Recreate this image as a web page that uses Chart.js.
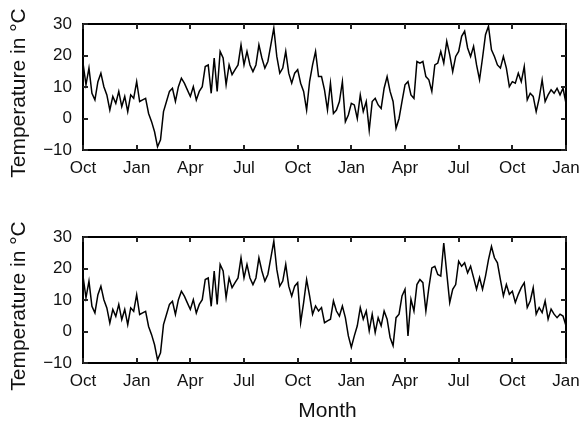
<!DOCTYPE html>
<html>
<head>
<meta charset="utf-8">
<script src="https://cdn.jsdelivr.net/npm/chart.js@4.4.1/dist/chart.umd.min.js"></script>
<style>
  html, body { margin: 0; padding: 0; background: #fff; }
  #wrap { position: relative; width: 581px; height: 424px; }
  canvas { position: absolute; left: 0; }
  #topPanel { top: 0; }
  #bottomPanel { top: 212px; }
</style>
</head>
<body>
<div id="wrap">
  <canvas id="topPanel" width="581" height="212" style="width:581px;height:212px"></canvas>
  <canvas id="bottomPanel" width="581" height="212" style="width:581px;height:212px"></canvas>
</div>
<script>
// Month labels along the time axis, one every three months
const tickLabels = ['Oct', 'Jan', 'Apr', 'Jul', 'Oct', 'Jan', 'Apr', 'Jul', 'Oct', 'Jan'];
const yTickValues = [-10, 0, 10, 20, 30];
const samplesPerMonth = 6;   // one value every ~5 days

// Upper panel: daily mean temperature (°C)
const topOctJul = [
  17.6, 10.7, 16.0, 8.0, 5.9, 11.7, 14.4, 10.1, 7.5, 2.7,
  7.0, 4.8, 8.6, 3.8, 7.0, 2.2, 7.5, 6.4, 11.7, 5.4,
  5.9, 6.4, 1.6, -1.0, -4.2, -9.0, -6.8, 2.2, 5.4, 8.6,
  9.6, 5.4, 10.1, 12.8, 11.2, 9.1, 7.0, 10.1, 5.9, 8.6,
  10.1, 16.5, 17.0, 8.0, 19.2, 8.6, 21.3, 19.2, 10.7, 17.0,
  13.9, 15.5, 17.0, 23.4
];
const topJulApr = [
  17.0, 21.3, 17.0, 14.9, 17.0, 23.4, 19.2, 16.0, 18.1, 23.4,
  28.7, 19.7, 14.4, 16.0, 21.3, 14.4, 11.2, 14.4, 15.5, 11.2,
  8.6, 2.7, 11.7, 17.0, 21.3, 13.3, 13.3, 9.1, 2.7, 11.2,
  1.6, 2.7, 5.4, 11.7, -1.0, 1.1, 4.8, 4.3, 0.0, 7.5,
  2.2, 5.4, -3.7, 5.4, 6.4, 4.3, 3.2, 9.6, 13.3, 8.6,
  5.4, -3.1, 0.0, 5.4
];
const topAprJan = [
  10.7, 11.7, 7.5, 6.4, 18.1, 17.6, 18.1, 13.3, 12.3, 8.6,
  17.0, 17.6, 21.3, 17.6, 24.5, 20.2, 14.9, 19.7, 21.3, 26.1,
  27.7, 22.4, 19.7, 22.9, 17.0, 12.3, 19.2, 26.6, 29.3, 21.8,
  19.7, 17.0, 16.0, 19.7, 16.0, 10.1, 11.7, 11.2, 14.4, 11.7,
  16.5, 5.9, 8.0, 7.0, 2.2, 6.4, 12.3, 5.4, 7.5, 9.1,
  8.0, 9.6, 7.5, 9.6, 4.8
];

// Lower panel: daily mean temperature (°C)
const bottomOctJul = [
  17.6, 10.7, 16.0, 8.0, 5.9, 11.7, 14.4, 10.1, 7.5, 2.7,
  7.0, 4.8, 8.6, 3.8, 7.0, 2.2, 7.5, 6.4, 11.7, 5.4,
  5.9, 6.4, 1.6, -1.0, -4.2, -9.0, -6.8, 2.2, 5.4, 8.6,
  9.6, 5.4, 10.1, 12.8, 11.2, 9.1, 7.0, 10.1, 5.9, 8.6,
  10.1, 16.5, 17.0, 8.0, 19.2, 8.6, 21.3, 19.2, 10.7, 17.0,
  13.9, 15.5, 17.0, 23.4
];
const bottomJulApr = [
  17.0, 21.3, 17.0, 14.9, 17.0, 23.4, 19.2, 16.0, 18.1, 23.4,
  28.7, 19.7, 14.4, 16.0, 21.3, 14.4, 11.2, 14.4, 15.5, 2.8,
  9.2, 16.5, 11.3, 5.5, 8.1, 6.5, 7.6, 2.8, 3.4, 3.9,
  9.7, 6.5, 4.9, 8.1, 4.4, -1.4, -5.0, -1.4, 1.8, 7.6,
  3.9, 6.5, 0.2, 5.5, -0.3, 4.4, 1.8, 6.5, 3.9, -1.9,
  -4.5, 4.4, 5.5, 11.3
];
const bottomAprJan = [
  13.4, -1.4, 10.2, 6.5, 14.9, 16.5, 15.5, 6.5, 13.9, 20.2,
  20.7, 18.1, 17.6, 28.1, 18.6, 9.2, 13.4, 14.9, 22.3, 20.7,
  21.8, 18.6, 20.7, 17.1, 13.4, 17.1, 13.4, 17.6, 22.8, 27.0,
  23.4, 21.8, 16.5, 11.3, 14.9, 11.8, 12.8, 9.2, 11.8, 13.9,
  15.5, 7.6, 9.7, 13.9, 5.5, 7.6, 6.0, 9.7, 3.9, 7.1,
  5.5, 4.4, 5.5, 4.9, 1.8
];

const FONT = "'Liberation Sans', Arial, Helvetica, sans-serif";
const INK = '#111';

// Box around the plotting area with inward tick marks on all four sides
const axisFrame = {
  id: 'axisFrame',
  afterDraw(chart) {
    const ctx = chart.ctx;
    const area = chart.chartArea;
    const xs = chart.scales.x, ys = chart.scales.y;
    const L = Math.round(area.left), R = Math.round(area.right);
    const T = Math.round(area.top), B = Math.round(area.bottom);
    const w = 2, len = 5;
    ctx.save();
    ctx.fillStyle = '#000';
    ctx.fillRect(L - 1, T - 1, R - L + 2, w);   // top
    ctx.fillRect(L - 1, B - 1, R - L + 2, w);   // bottom
    ctx.fillRect(L - 1, T - 1, w, B - T + 2);   // left
    ctx.fillRect(R - 1, T - 1, w, B - T + 2);   // right
    ctx.fillStyle = '#222';
    xs.ticks.forEach(t => {
      const px = Math.round(xs.getPixelForValue(t.value));
      ctx.fillRect(px - 1, B - len, w, len);
      ctx.fillRect(px - 1, T, w, len);
    });
    ys.ticks.forEach(t => {
      const py = Math.round(ys.getPixelForValue(t.value));
      ctx.fillRect(L, py - 1, len, w);
      ctx.fillRect(R - len, py - 1, len, w);
    });
    ctx.restore();
  }
};

// Axis titles
const axisTitles = {
  id: 'axisTitles',
  afterDraw(chart, args, opts) {
    const { ctx, chartArea } = chart;
    ctx.save();
    ctx.fillStyle = INK;
    ctx.font = '21px ' + FONT;
    ctx.textAlign = 'center';
    ctx.textBaseline = 'middle';
    ctx.save();
    ctx.translate(opts.yTitleX, (chartArea.top + chartArea.bottom) / 2 + opts.yTitleShift);
    ctx.rotate(-Math.PI / 2);
    ctx.fillText(opts.yTitle, 0, 0);
    ctx.restore();
    if (opts.xTitle) {
      ctx.fillText(opts.xTitle, (chartArea.left + chartArea.right) / 2 + 3, opts.xTitleY);
    }
    ctx.restore();
  }
};

function buildPanel(canvasId, values, layout) {
  return new Chart(document.getElementById(canvasId), {
    type: 'line',
    data: {
      datasets: [{
        data: values.map((v, i) => ({ x: i / samplesPerMonth, y: v })),
        borderColor: '#000',
        borderWidth: 1.5,
        pointRadius: 0,
        tension: 0,
        fill: false
      }]
    },
    options: {
      responsive: false,
      animation: false,
      devicePixelRatio: 1,
      layout: { padding: { top: layout.top, right: 15, bottom: 0, left: 0 } },
      plugins: {
        legend: { display: false },
        tooltip: { enabled: false },
        axisTitles: {
          yTitle: 'Temperature in °C',
          yTitleX: 19.5,
          yTitleShift: 6,
          xTitle: layout.xTitle,
          xTitleY: layout.xTitleY
        }
      },
      scales: {
        x: {
          type: 'linear',
          min: 0,
          max: (tickLabels.length - 1) * 3,
          afterBuildTicks: s => { s.ticks = tickLabels.map((_, i) => ({ value: i * 3 })); },
          afterFit: s => { s.height = layout.xAxisHeight; s.paddingLeft = 0; s.paddingRight = 0; },
          ticks: {
            autoSkip: false,
            maxRotation: 0,
            padding: 8,
            color: INK,
            font: { family: FONT, size: 17 },
            callback: v => tickLabels[Math.round(v / 3)]
          },
          grid: { display: false, drawTicks: false },
          border: { display: false }
        },
        y: {
          min: yTickValues[0],
          max: yTickValues[yTickValues.length - 1],
          afterBuildTicks: s => { s.ticks = yTickValues.map(v => ({ value: v })); },
          afterFit: s => { s.width = 83; s.paddingTop = 0; s.paddingBottom = 0; },
          ticks: {
            padding: 11,
            color: INK,
            font: { family: FONT, size: 17 },
            callback: v => String(v).replace('-', '\u2212')
          },
          grid: { display: false, drawTicks: false },
          border: { display: false }
        }
      }
    },
    plugins: [axisFrame, axisTitles]
  });
}

buildPanel('topPanel', topOctJul.concat(topJulApr, topAprJan), { top: 24, xAxisHeight: 62 });
buildPanel('bottomPanel', bottomOctJul.concat(bottomJulApr, bottomAprJan),
  { top: 25, xAxisHeight: 61, xTitle: 'Month', xTitleY: 199 });
</script>
</body>
</html>
